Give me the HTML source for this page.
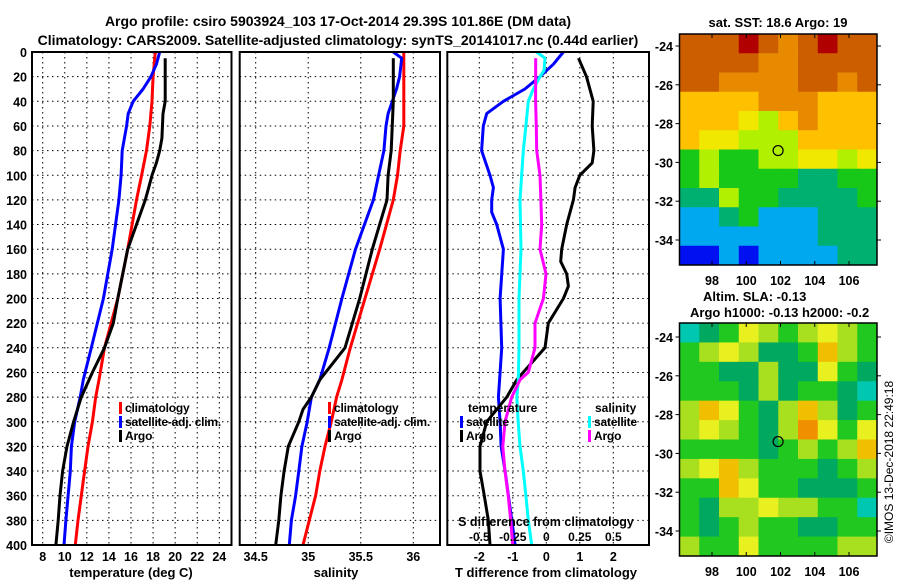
<!DOCTYPE html>
<html><head><meta charset="utf-8"><style>
html,body{margin:0;padding:0;background:#fff;}
svg{display:block;font-family:"Liberation Sans",sans-serif;font-weight:bold;}
</style></head><body>
<svg id="chart" width="900" height="580" viewBox="0 0 900 580" xmlns="http://www.w3.org/2000/svg">
<text x="338" y="26" font-size="14" text-anchor="middle">Argo profile: csiro 5903924_103 17-Oct-2014 29.39S 101.86E (DM data)</text>
<text x="338" y="45" font-size="14" text-anchor="middle">Climatology: CARS2009. Satellite-adjusted climatology: synTS_20141017.nc (0.44d earlier)</text>
<g id="g"></g>
</svg>
<script>
// ---- data ----
const tDepths = [0,10,20,30,40,50,60,80,100,120,160,200,240,266,280,300,320,340,360,380,400];
const tClim   = [18.2,18.1,18.0,17.95,17.9,17.8,17.7,17.4,16.96,16.5,15.7,14.8,13.6,13.1,12.8,12.5,12.1,11.8,11.5,11.2,10.95];
const tSat    = [18.6,18.3,17.8,17.1,16.2,15.75,15.6,15.2,15.1,14.9,14.3,13.5,12.4,11.68,11.4,10.9,10.6,10.5,10.3,10.1,9.93];
const argoDepths = [5,40,50,70,80,90,100,110,120,160,200,220,240,260,280,300,320,340,360,380,400];
const tArgo   = [19.1,19.1,18.9,18.8,18.6,18.3,17.9,17.6,17.3,15.7,14.8,14.4,13.6,12.5,11.5,10.8,10.2,9.8,9.57,9.4,9.2];
const sDepths = [0,5,20,30,40,50,60,80,100,120,160,200,240,266,280,300,320,340,360,380,400];
const sClim   = [35.91,35.91,35.91,35.91,35.91,35.91,35.91,35.875,35.85,35.81,35.68,35.54,35.40,35.32,35.27,35.22,35.16,35.11,35.07,35.01,34.95];
const sSat    = [35.81,35.89,35.87,35.84,35.8,35.76,35.74,35.72,35.67,35.62,35.45,35.32,35.2,35.11,35.03,34.99,34.94,34.91,34.88,34.84,34.82];
const sArgoDepths = [5,40,80,100,120,160,200,240,266,280,290,300,320,340,360,380,400];
const sArgo   = [35.81,35.81,35.79,35.76,35.75,35.61,35.49,35.35,35.11,35.03,34.95,34.91,34.81,34.77,34.74,34.72,34.69];
const dtSatDepths = [0,10,20,30,40,50,60,80,100,110,120,130,140,160,200,240,260,280,300,320,340,360,380,400];
const dtSat   = [0.51,0.21,-0.19,-0.64,-1.28,-1.78,-1.88,-1.93,-1.68,-1.58,-1.63,-1.63,-1.48,-1.28,-1.38,-1.33,-1.38,-1.43,-1.38,-1.35,-1.23,-1.13,-1.03,-0.93];
const dtArgoDepths = [5,20,40,60,80,90,100,110,120,140,160,170,180,190,200,220,240,260,266,280,300,320,340,360,380,400];
const dtArgo  = [0.96,1.2,1.4,1.37,1.42,1.37,1.0,0.86,0.81,0.61,0.46,0.43,0.61,0.66,0.51,0.06,-0.04,-0.69,-0.88,-1.18,-1.78,-1.98,-1.98,-1.85,-1.73,-1.68];
const dsSatDepths = [0,5,15,20,30,40,60,80,120,160,200,240,266,280,300,320,340,360,380,400];
const dsSat   = [-0.072,-0.01,-0.017,-0.047,-0.097,-0.134,-0.152,-0.172,-0.196,-0.189,-0.204,-0.204,-0.209,-0.22,-0.21,-0.196,-0.172,-0.152,-0.134,-0.109];
const dsArgoDepths = [5,40,60,80,100,140,160,180,200,220,240,260,266,280,300,320,340,360,380,400];
const dsArgo  = [-0.079,-0.08,-0.075,-0.072,-0.047,-0.034,-0.047,-0.002,-0.022,-0.084,-0.084,-0.134,-0.196,-0.258,-0.308,-0.325,-0.308,-0.284,-0.266,-0.251];
const depthTicks = [0,20,40,60,80,100,120,140,160,180,200,220,240,260,280,300,320,340,360,380,400];
const tempTicks = [8,10,12,14,16,18,20,22,24];
const salTicks = [34.5,35,35.5,36];
const salTickLabels = ["34.5","35","35.5","36"];
const dtTicks = [-2,-1,0,1,2];
const dsTicks = [-0.5,-0.25,0,0.25,0.5];
const dsTickLabels = ["-0.5","-0.25","0","0.25","0.5"];
const lonTicks = [98,100,102,104,106];
const latTicks = [-24,-26,-28,-30,-32,-34];
const argoLon = 101.86, argoLat = -29.39;
const sstGrid = [
[8,8,8,9,8,7,8,9,8,8],[8,8,8,8,7,7,8,8,8,8],[8,8,7,7,7,7,8,8,7,8],[6,6,6,6,7,7,7,6,6,6],
[6,6,6,5,4,6,7,6,6,6],[6,5,5,4,4,4,6,6,6,6],[3,4,3,3,4,4,5,5,4,5],[3,4,3,3,3,3,2,2,3,3],
[2,2,4,3,3,2,2,2,2,3],[1,1,2,3,1,1,1,2,2,2],[1,1,1,1,1,1,1,2,2,2],[0,0,1,0,1,1,1,1,2,2]];
const slaGrid = [
[0,1,2,4,3,2,3,4,3,2],[2,3,4,3,1,1,2,5,3,2],[2,2,1,1,3,1,1,4,2,1],[2,2,2,1,3,1,2,2,1,0],
[3,5,4,2,1,3,5,3,1,2],[3,4,3,2,1,3,6,4,2,4],[2,2,2,2,1,2,3,2,3,5],[3,4,5,3,2,2,2,1,2,3],
[2,2,5,4,2,2,1,1,1,2],[2,1,3,3,4,3,3,2,2,0],[2,1,2,3,2,2,1,1,2,2],[3,2,2,4,2,2,2,2,3,3]];
const sstColors = ["#0010f0","#00a8f0","#00b070","#18c818","#b0f000","#f0e800","#ffc000","#e88a00","#cc5e00","#b00000"];
const slaColors = ["#00c8b0","#00a860","#20c820","#a8e020","#e8f020","#f0c000","#f09000"];

// ---- helpers ----
const NS="http://www.w3.org/2000/svg";
const root=document.getElementById('g');
function el(tag,attrs,parent){const e=document.createElementNS(NS,tag);for(const k in attrs)e.setAttribute(k,attrs[k]);(parent||root).appendChild(e);return e;}
const Y0=52,Y1=545;
function yD(d){return Y0+(d/400)*(Y1-Y0);}
function lin(d0,d1,r0,r1){return v=>r0+(v-d0)/(d1-d0)*(r1-r0);}

function panel(name,x0,x1,xs,ticks,labels,showY){
  const g=el('g',{});
  
  
  ticks.forEach(t=>{const l=el('line',{x1:xs(t),x2:xs(t),y1:Y0,y2:Y1,stroke:'#000','stroke-width':1,'stroke-dasharray':'1.5,3.5'},g);
    
    });
  depthTicks.forEach(d=>{const l=el('line',{x1:x0,x2:x1,y1:yD(d),y2:yD(d),stroke:'#000','stroke-width':1,'stroke-dasharray':'1.5,3.5'},g);
    
    
    if(showY){const t=el('text',{x:27,y:yD(d)+5,'font-size':12.5,'text-anchor':'end'},g);t.textContent=d;
      
      }});
  if(labels){ticks.forEach((t,i)=>{const tx=el('text',{x:xs(t),y:561,'font-size':12.5,'text-anchor':'middle'},g);tx.textContent=labels[i];
    
    });}
  return g;
}
function frame(g,x0,x1){const r=el('rect',{x:x0,y:Y0,width:x1-x0,height:Y1-Y0,fill:'none',stroke:'#000','stroke-width':2},g);
  
  }
function line(g,xs,vals,depths,color,name){
  const pts=vals.map((v,i)=>xs(v).toFixed(1)+','+yD(depths[i]).toFixed(1)).join(' ');
  const p=el('polyline',{points:pts,fill:'none',stroke:color,'stroke-width':3,'stroke-linejoin':'round'},g);
  
  
}
function legendItem(g,x,y,color,label,name){
  const r=el('rect',{x:x,y:y-10,width:3,height:12,fill:color},g);
  
  
  const t=el('text',{x:x+6,y:y,'font-size':12,'letter-spacing':'-0.2'},g);t.textContent=label;
  
  
}
function txt(g,x,y,s,size,anchor,name,extra){const t=el('text',Object.assign({x:x,y:y,'font-size':size,'text-anchor':anchor||'start'},extra||{}),g);t.textContent=s;
  
  return t;}

// ---- panel 1: temperature ----
const xT=lin(8,24,42.7,219.3);
const g1=panel('temperature-panel',32,231.5,xT,tempTicks,tempTicks.map(String),true);
line(g1,xT,tClim,tDepths,'#ff0000','temp-climatology-line');
line(g1,xT,tSat,tDepths,'#0000ff','temp-satellite-line');
line(g1,xT,tArgo,argoDepths,'#000000','temp-argo-line');
frame(g1,32,231.5);
legendItem(g1,119,412,'#ff0000','climatology','legend-climatology');
legendItem(g1,119,426,'#0000ff','satellite-adj. clim.','legend-satellite');
legendItem(g1,119,440,'#000000','Argo','legend-argo');
txt(g1,131,577,'temperature (deg C)',13,'middle','x-axis-title-temperature');

// ---- panel 2: salinity ----
const xS=lin(34.5,36,255.7,413.3);
const g2=panel('salinity-panel',239.7,440,xS,salTicks,salTickLabels,false);
line(g2,xS,sClim,sDepths,'#ff0000','sal-climatology-line');
line(g2,xS,sSat,sDepths,'#0000ff','sal-satellite-line');
line(g2,xS,sArgo,sArgoDepths,'#000000','sal-argo-line');
frame(g2,239.7,440);
legendItem(g2,328,412,'#ff0000','climatology','legend-climatology');
legendItem(g2,328,426,'#0000ff','satellite-adj. clim.','legend-satellite');
legendItem(g2,328,440,'#000000','Argo','legend-argo');
txt(g2,336,577,'salinity',13,'middle','x-axis-title-salinity');

// ---- panel 3: differences ----
const xDT=lin(-2,2,479.3,613.3);
const xDS=lin(-0.5,0.5,479.3,613.3);
const g3=panel('difference-panel',447.3,649,xDT,dtTicks,dtTicks.map(String),false);
line(g3,xDT,dtSat,dtSatDepths,'#0000ff','tdiff-satellite-line');
line(g3,xDT,dtArgo,dtArgoDepths,'#000000','tdiff-argo-line');
line(g3,xDS,dsSat,dsSatDepths,'#00ffff','sdiff-satellite-line');
line(g3,xDS,dsArgo,dsArgoDepths,'#ff00ff','sdiff-argo-line');
frame(g3,447.3,649);
txt(g3,468,412,'temperature',12,'start','legend-temperature-header');
legendItem(g3,460,426,'#0000ff','satellite','legend-tdiff-satellite');
legendItem(g3,460,440,'#000000','Argo','legend-tdiff-argo');
txt(g3,595,412,'salinity',12,'start','legend-salinity-header');
legendItem(g3,588,426,'#00ffff','satellite','legend-sdiff-satellite');
legendItem(g3,588,440,'#ff00ff','Argo','legend-sdiff-argo');
txt(g3,546,526,'S difference from climatology',12.5,'middle','s-axis-title');
dsTicks.forEach((t,i)=>{txt(g3,xDS(t),541,dsTickLabels[i],12,'middle','s-tick-label');});
txt(g3,546,577,'T difference from climatology',13,'middle','x-axis-title-tdiff');

// ---- maps ----
function map(name,top,bottom,grid,colors,latTop,latBot){
  const g=el('g',{});
  
  
  const L=679.5,R=877;
  const rows=grid.length,cols=grid[0].length;
  const cw=(R-L)/cols,ch=(bottom-top)/rows;
  grid.forEach((row,r)=>row.forEach((v,c)=>{
    const cell=el('rect',{x:L+c*cw,y:top+r*ch,width:cw+0.5,height:ch+0.5,fill:colors[v]},g);
    
    
  }));
  const xl=lin(98,106,712,849);
  const yl=lin(-24,-34,latTop,latBot);
  const fr=el('rect',{x:L,y:top,width:R-L,height:bottom-top,fill:'none',stroke:'#000','stroke-width':1.5},g);
  
  
  lonTicks.forEach(t=>{
    el('line',{x1:xl(t),x2:xl(t),y1:top,y2:top+4,stroke:'#000'},g);
    el('line',{x1:xl(t),x2:xl(t),y1:bottom,y2:bottom-4,stroke:'#000'},g);
    txt(g,xl(t),bottom+20,String(t),12.5,'middle','lon-tick-label');
  });
  latTicks.forEach(t=>{
    el('line',{x1:L-4,x2:L,y1:yl(t),y2:yl(t),stroke:'#000'},g);
    el('line',{x1:R,x2:R+4,y1:yl(t),y2:yl(t),stroke:'#000'},g);
    txt(g,673,yl(t)+5,String(t),12.5,'end','lat-tick-label');
  });
  const c=el('circle',{cx:xl(argoLon),cy:yl(argoLat),r:5,fill:'none',stroke:'#000','stroke-width':1.2},g);
  
  
  return g;
}
map('sst-map',34,265,sstGrid,sstColors,46,240);
map('sla-map',323,556,slaGrid,slaColors,337,531);
txt(root,778,27,'sat. SST: 18.6 Argo: 19',13,'middle','sst-map-title');
txt(root,703,301,'Altim. SLA: -0.13',13,'start','sla-map-title');
txt(root,690,317,'Argo h1000: -0.13 h2000: -0.2',13,'start','sla-map-subtitle');
txt(root,0,0,'\u00a9IMOS 13-Dec-2018 22:49:18',12,'middle','timestamp-credit',{transform:'translate(893,462) rotate(-90)','font-weight':'normal'});
</script>
</body></html>
